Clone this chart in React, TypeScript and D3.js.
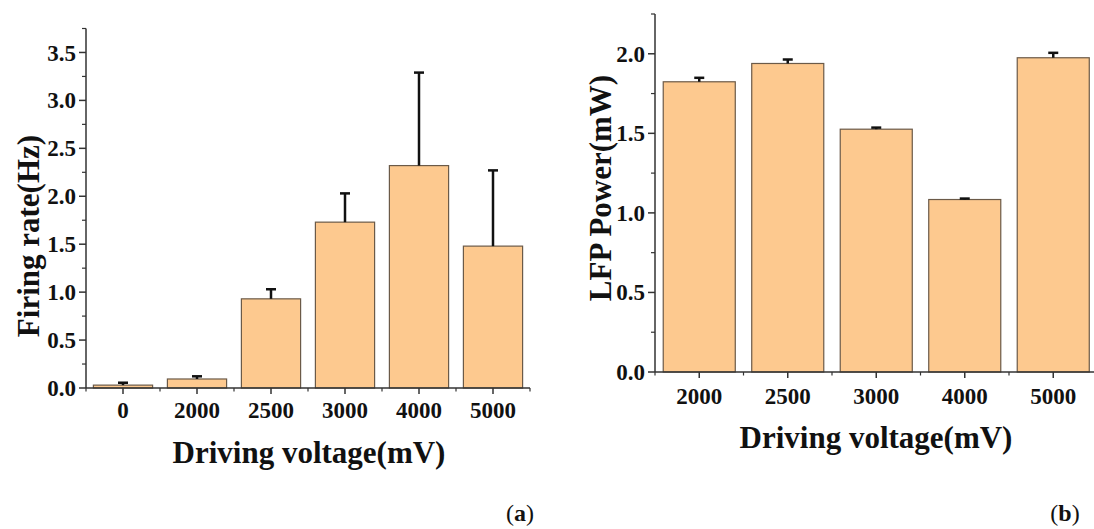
import React from "react";
import * as d3 from "d3";

const catsA = ["0", "2000", "2500", "3000", "4000", "5000"];
const valsA = [0.03, 0.094, 0.93, 1.73, 2.32, 1.48];
const errA = [0.025, 0.028, 0.1, 0.3, 0.97, 0.79];
const ticksA = [0, 0.5, 1.0, 1.5, 2.0, 2.5, 3.0, 3.5];

const catsB = ["2000", "2500", "3000", "4000", "5000"];
const valsB = [1.824, 1.939, 1.526, 1.084, 1.975];
const errB = [0.025, 0.025, 0.01, 0.006, 0.031];
const ticksB = [0, 0.5, 1.0, 1.5, 2.0];

const FILL = "#FDC98F";
const BAR_STROKE = "#6b5a48";
const AXIS = "#333";
const FONT = "'Liberation Serif', 'Times New Roman', serif";

type PanelProps = {
  cats: string[];
  vals: number[];
  errs: number[];
  ticks: number[];
  yMax: number;
  x0: number;
  x1: number;
  y0: number;
  y1: number;
  padding: number;
  yTitle: string;
  yTitleX: number;
  yTitleY: number;
  xTitleX: number;
  xTitleY: number;
  tickFont: number;
  titleFont: number;
  xLabelY: number;
  tag: string;
  tagX: number;
};

function Panel(p: PanelProps) {
  const x = d3
    .scaleBand<string>()
    .domain(p.cats)
    .range([p.x0, p.x1])
    .paddingInner(p.padding)
    .paddingOuter(p.padding / 2);
  const y = d3.scaleLinear().domain([0, p.yMax]).range([p.y0, p.y1]);
  const step = x.step();
  const bw = x.bandwidth();
  const gap = (step - bw) / 2;
  const boundaries = p.cats.map((c) => (x(c) as number) - gap);
  boundaries.push((x(p.cats[p.cats.length - 1]) as number) + bw + gap);
  const minorY = d3.range(0.25, p.yMax + 0.001, 0.5);

  return (
    <g>
      {p.cats.map((c, i) => {
        const bx = x(c) as number;
        const cx = bx + bw / 2;
        const top = y(p.vals[i]);
        const et = y(p.vals[i] + p.errs[i]);
        return (
          <g key={c}>
            <rect
              x={bx}
              y={top}
              width={bw}
              height={p.y0 - top}
              fill={FILL}
              stroke={BAR_STROKE}
              strokeWidth={1.2}
            />
            <line x1={cx} x2={cx} y1={top} y2={et} stroke="#111" strokeWidth={2.5} />
            <line x1={cx - 5} x2={cx + 5} y1={et} y2={et} stroke="#111" strokeWidth={2.5} />
          </g>
        );
      })}
      <line x1={p.x0} x2={p.x0} y1={p.y0} y2={p.y1} stroke={AXIS} strokeWidth={1.5} />
      <line x1={p.x0} x2={p.x1} y1={p.y0} y2={p.y0} stroke={AXIS} strokeWidth={1.5} />
      {p.ticks.map((t) => (
        <g key={t}>
          <line x1={p.x0 - 7} x2={p.x0} y1={y(t)} y2={y(t)} stroke={AXIS} strokeWidth={1.5} />
          <text
            x={p.x0 - 10}
            y={y(t)}
            dy="0.35em"
            textAnchor="end"
            fontFamily={FONT}
            fontWeight="bold"
            fontSize={p.tickFont}
            fill="#111"
          >
            {t.toFixed(1)}
          </text>
        </g>
      ))}
      {minorY.map((t) => (
        <line key={t} x1={p.x0 - 4} x2={p.x0} y1={y(t)} y2={y(t)} stroke={AXIS} strokeWidth={1.2} />
      ))}
      {p.cats.map((c) => {
        const cx = (x(c) as number) + bw / 2;
        return (
          <g key={c}>
            <line x1={cx} x2={cx} y1={p.y0} y2={p.y0 + 6} stroke={AXIS} strokeWidth={1.5} />
            <text
              x={cx}
              y={p.xLabelY}
              dy="0.35em"
              textAnchor="middle"
              fontFamily={FONT}
              fontWeight="bold"
              fontSize={p.tickFont}
              fill="#111"
            >
              {c}
            </text>
          </g>
        );
      })}
      {boundaries.map((b, i) => (
        <line key={i} x1={b} x2={b} y1={p.y0} y2={p.y0 + 3.5} stroke={AXIS} strokeWidth={1.2} />
      ))}
      <text
        transform={`translate(${p.yTitleX},${p.yTitleY}) rotate(-90)`}
        textAnchor="middle"
        dy="0.35em"
        fontFamily={FONT}
        fontWeight="bold"
        fontSize={p.titleFont}
        fill="#111"
      >
        {p.yTitle}
      </text>
      <text
        x={p.xTitleX}
        y={p.xTitleY}
        dy="0.35em"
        textAnchor="middle"
        fontFamily={FONT}
        fontWeight="bold"
        fontSize={p.titleFont}
        fill="#111"
      >
        Driving voltage(mV)
      </text>
      <text
        x={p.tagX}
        y={513}
        dy="0.35em"
        textAnchor="middle"
        fontFamily={FONT}
        fontSize={24}
        fill="#111"
      >
        (<tspan fontWeight="bold">{p.tag}</tspan>)
      </text>
    </g>
  );
}

export default function App() {
  return (
    <svg
      width={1094}
      height={529}
      style={{ position: "absolute", left: 0, top: 0, background: "#fff" }}
    >
      <rect width={1094} height={529} fill="#fff" />
      <Panel
        cats={catsA}
        vals={valsA}
        errs={errA}
        ticks={ticksA}
        yMax={3.75}
        x0={86}
        x1={530}
        y0={388}
        y1={28.5}
        padding={0.2}
        yTitle="Firing rate(Hz)"
        yTitleX={28}
        yTitleY={236}
        xTitleX={309}
        xTitleY={452}
        tickFont={23}
        titleFont={31}
        xLabelY={410}
        tag="a"
        tagX={520}
      />
      <Panel
        cats={catsB}
        vals={valsB}
        errs={errB}
        ticks={ticksB}
        yMax={2.25}
        x0={655}
        x1={1097.5}
        y0={372}
        y1={14}
        padding={0.186}
        yTitle="LFP Power(mW)"
        yTitleX={600}
        yTitleY={188}
        xTitleX={876}
        xTitleY={437}
        tickFont={23}
        titleFont={31}
        xLabelY={396}
        tag="b"
        tagX={1065}
      />
    </svg>
  );
}
